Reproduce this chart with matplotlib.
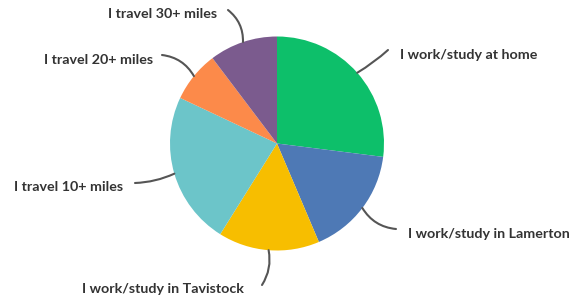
import numpy as np
import matplotlib
matplotlib.use("Agg")
import matplotlib.pyplot as plt

categories = ["I work/study at home", "I work/study in Lamerton", "I work/study in Tavistock",
              "I travel 10+ miles", "I travel 20+ miles", "I travel 30+ miles"]
values = [27.0, 16.6, 15.3, 23.1, 7.7, 10.3]
colors = ["#0dbf6a", "#4e79b5", "#f7be00", "#6cc5c9", "#fc8a4a", "#7b5b8e"]

W, H = 577, 304
fig = plt.figure(figsize=(W / 100, H / 100), dpi=100)
ax = fig.add_axes([0, 0, 1, 1])

cx, cy, R = 277, H - 143.5, 107
wedges, _ = ax.pie(values, colors=colors, startangle=90, counterclock=False,
                   center=(cx, cy), radius=R, wedgeprops=dict(linewidth=0))
ax.set_xlim(0, W)
ax.set_ylim(0, H)
ax.set_aspect("auto")
ax.axis("off")

# label layout (pixel coords, y from top): text anchor, alignment, leader end, curvature
layout = [
    ((400, 55), "left", (388, 50), -0.05),
    ((408, 234), "left", (396, 229), -0.25),
    ((82, 289), "left", (262, 285), 0.2),
    ((123, 187), "right", (135, 183), 0.1),
    ((153, 60), "right", (162, 55), -0.25),
    ((217, 14), "right", (228, 10), -0.25),
]

for w, lab, (tpos, ha, lend, rad) in zip(wedges, categories, layout):
    mid = np.deg2rad((w.theta1 + w.theta2) / 2)
    sx, sy = cx + R * np.cos(mid), cy + R * np.sin(mid)
    ax.annotate("", xy=(sx, sy), xytext=(lend[0], H - lend[1]),
                arrowprops=dict(arrowstyle="-", color="#555555", lw=1.5,
                                connectionstyle=f"arc3,rad={rad}",
                                shrinkA=0, shrinkB=0))
    ax.text(tpos[0], H - tpos[1], lab, ha=ha, va="center", fontsize=10.3,
            fontweight="bold", color="#333333", family=["Lato", "DejaVu Sans"])

fig.savefig("out.png", dpi=100)
